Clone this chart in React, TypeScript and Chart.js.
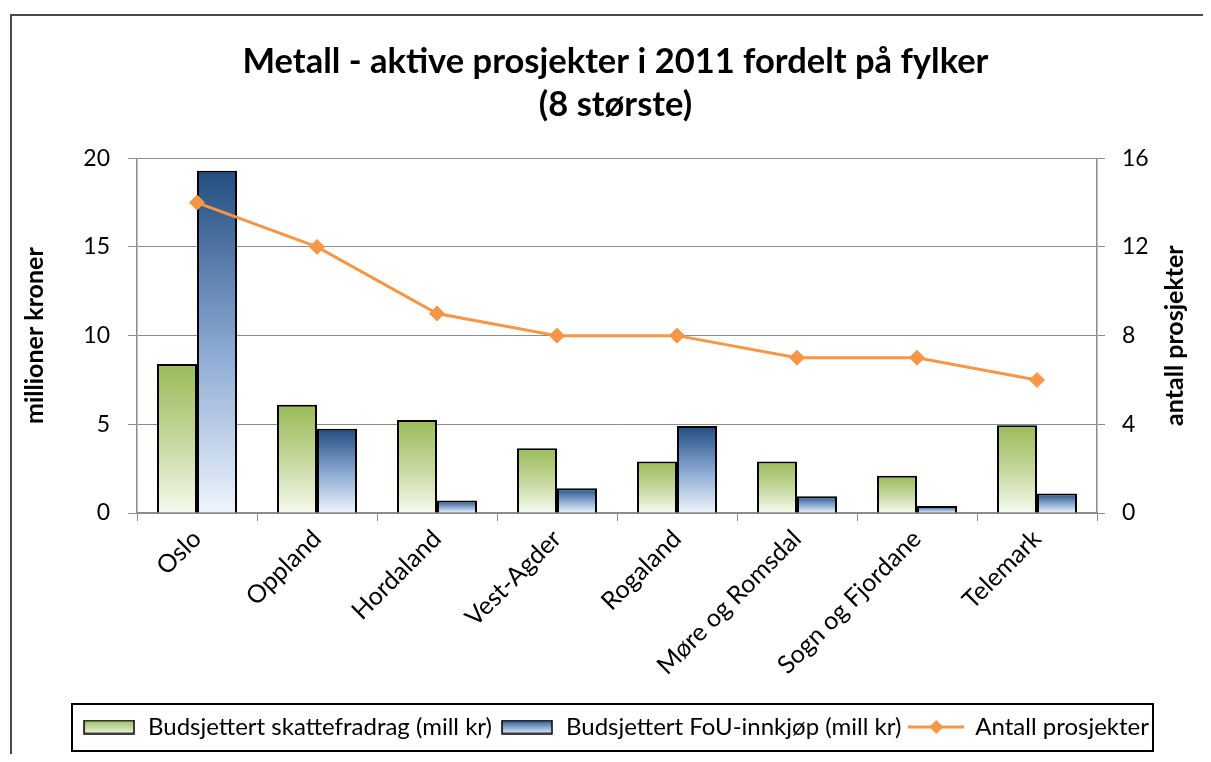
import React, { useEffect, useRef } from 'react';
import { Chart, registerables } from 'chart.js';

Chart.register(...registerables);

const categories = ['Oslo', 'Oppland', 'Hordaland', 'Vest-Agder', 'Rogaland', 'Møre og Romsdal', 'Sogn og Fjordane', 'Telemark'];
const skattefradrag = [8.4, 6.1, 5.25, 3.65, 2.9, 2.9, 2.1, 4.95];
const fouInnkjop = [19.3, 4.75, 0.7, 1.4, 4.9, 0.95, 0.4, 1.1];
const antallProsjekter = [14, 12, 9, 8, 8, 7, 7, 6];
const seriesNames = ['Budsjettert skattefradrag (mill kr)', 'Budsjettert FoU-innkjøp (mill kr)', 'Antall prosjekter'];
const titleLines = ['Metall - aktive prosjekter i 2011 fordelt på fylker', '(8 største)'];
const leftAxisTitle = 'millioner kroner';
const rightAxisTitle = 'antall prosjekter';
const leftMax = 20;
const leftStep = 5;
const rightMax = 16;
const rightStep = 4;

const FONT = "Lato, 'Open Sans', sans-serif";
const GREEN_STOPS = ['#9BBB59', '#C3D79B', '#F6FAEF'];
const BLUE_STOPS = ['#234D80', '#86A5CF', '#EEF4FD'];
const ORANGE = '#F79646';
const GRID = '#8C8C8C';

function barGradient(stops: string[]) {
  return (ctx: any) => {
    const chart = ctx.chart;
    const y = chart.scales && chart.scales.y;
    if (!y || ctx.type !== 'data' || ctx.raw == null) return stops[0];
    const top = y.getPixelForValue(ctx.raw);
    const bot = y.getPixelForValue(0);
    if (!isFinite(top) || !isFinite(bot) || Math.abs(bot - top) < 1) return stops[0];
    const g = chart.ctx.createLinearGradient(0, top, 0, bot);
    g.addColorStop(0, stops[0]);
    g.addColorStop(0.5, stops[1]);
    g.addColorStop(1, stops[2]);
    return g;
  };
}

function makeSwatch(stops: string[]) {
  const c = document.createElement('canvas');
  c.width = 52;
  c.height = 15;
  const x = c.getContext('2d')!;
  const g = x.createLinearGradient(0, 0, 0, 15);
  g.addColorStop(0, stops[0]);
  g.addColorStop(0.5, stops[1]);
  g.addColorStop(1, stops[2]);
  x.fillStyle = g;
  x.fillRect(1, 1, 50, 13);
  x.strokeStyle = '#000';
  x.lineWidth = 1.5;
  x.strokeRect(1, 1, 50, 13);
  return c;
}

function makeLineSwatch() {
  const c = document.createElement('canvas');
  c.width = 56;
  c.height = 16;
  const x = c.getContext('2d')!;
  x.strokeStyle = ORANGE;
  x.lineWidth = 3;
  x.beginPath();
  x.moveTo(0, 8);
  x.lineTo(56, 8);
  x.stroke();
  x.fillStyle = ORANGE;
  x.beginPath();
  x.moveTo(28, 1);
  x.lineTo(35, 8);
  x.lineTo(28, 15);
  x.lineTo(21, 8);
  x.closePath();
  x.fill();
  return c;
}

const legendBoxPlugin = {
  id: 'legendBox',
  afterDraw(chart: any) {
    const lg = chart.legend;
    if (!lg || !lg.legendHitBoxes || !lg.legendHitBoxes.length) return;
    const hb = lg.legendHitBoxes;
    const left = Math.min(...hb.map((h: any) => h.left)) - 10;
    const right = Math.max(...hb.map((h: any) => h.left + h.width)) + 4;
    const top = hb[0].top - 11;
    const bottom = hb[0].top + hb[0].height + 12;
    const c = chart.ctx;
    c.save();
    c.strokeStyle = '#000';
    c.lineWidth = 2;
    c.strokeRect(left, top, right - left, bottom - top);
    c.restore();
  },
};

const rightTitlePlugin = {
  id: 'rightTitle',
  afterDraw(chart: any) {
    const { ctx, chartArea, scales } = chart;
    const s = scales.y1;
    if (!s) return;
    ctx.save();
    ctx.font = `bold 25px ${FONT}`;
    ctx.fillStyle = '#000';
    ctx.translate(s.right - 36, (chartArea.top + chartArea.bottom) / 2);
    ctx.rotate(-Math.PI / 2);
    ctx.textAlign = 'center';
    ctx.textBaseline = 'middle';
    ctx.fillText(rightAxisTitle, 0, 0);
    ctx.restore();
  },
};

export default function App() {
  const ref = useRef<HTMLCanvasElement | null>(null);

  useEffect(() => {
    if (!ref.current) return;
    const swatches = [makeSwatch(GREEN_STOPS), makeSwatch(BLUE_STOPS), makeLineSwatch()];
    const chart = new Chart(ref.current, {
      type: 'bar',
      data: {
        labels: categories,
        datasets: [
          {
            label: seriesNames[0],
            data: skattefradrag,
            backgroundColor: barGradient(GREEN_STOPS),
            borderColor: '#000',
            borderWidth: 2,
            categoryPercentage: 0.667,
            barPercentage: 1,
            yAxisID: 'y',
            order: 1,
          },
          {
            label: seriesNames[1],
            data: fouInnkjop,
            backgroundColor: barGradient(BLUE_STOPS),
            borderColor: '#000',
            borderWidth: 2,
            categoryPercentage: 0.667,
            barPercentage: 1,
            yAxisID: 'y',
            order: 1,
          },
          {
            type: 'line',
            label: seriesNames[2],
            data: antallProsjekter,
            borderColor: ORANGE,
            backgroundColor: ORANGE,
            borderWidth: 3,
            pointStyle: 'rectRot',
            pointRadius: 7.5,
            pointBackgroundColor: ORANGE,
            pointBorderColor: ORANGE,
            pointBorderWidth: 1,
            tension: 0,
            yAxisID: 'y1',
            order: 0,
          } as any,
        ],
      },
      options: {
        animation: false,
        responsive: true,
        maintainAspectRatio: false,
        layout: { padding: { left: 20, right: 0, top: 0, bottom: 13 } },
        plugins: {
          title: {
            display: true,
            text: titleLines,
            color: '#000',
            font: { family: FONT, size: 34.5, weight: 'bold', lineHeight: 1.25 },
            padding: { top: 40, bottom: 32 },
          },
          legend: {
            display: true,
            position: 'bottom',
            labels: {
              usePointStyle: true,
              pointStyleWidth: 54,
              boxHeight: 15,
              padding: 8,
              color: '#000',
              font: { family: FONT, size: 24 },
              sort: (a: any, b: any) => a.datasetIndex - b.datasetIndex,
              generateLabels: (ch: any) => {
                const items = (Chart.defaults.plugins.legend.labels as any).generateLabels(ch);
                return items.map((it: any) => ({ ...it, pointStyle: swatches[it.datasetIndex], fontColor: '#000' }));
              },
            },
          },
          tooltip: { enabled: false },
        },
        scales: {
          x: {
            offset: true,
            grid: { display: true, drawOnChartArea: false, drawTicks: true, tickLength: 8, color: GRID, offset: true },
            border: { display: true, color: GRID, width: 1.5 },
            ticks: {
              color: '#000',
              font: { family: FONT, size: 25 },
              minRotation: 45,
              maxRotation: 45,
              autoSkip: false,
              padding: 3,
            },
            afterFit: (s: any) => {
              const lh = s.chart.legend ? s.chart.legend.height : 41;
              s.height = s.chart.height - 13 - lh - 513;
            },
          },
          y: {
            position: 'left',
            min: 0,
            max: leftMax,
            ticks: { stepSize: leftStep, color: '#000', font: { family: FONT, size: 23 }, padding: 18 },
            grid: { color: GRID, lineWidth: 1, tickLength: 9, drawTicks: true },
            border: { display: true, color: GRID, width: 1.5 },
            title: {
              display: true,
              text: leftAxisTitle,
              color: '#000',
              font: { family: FONT, size: 25, weight: 'bold', lineHeight: 1.2 },
              padding: { top: 0, bottom: 0 },
            },
            afterFit: (s: any) => {
              s.width = 117;
            },
          },
          y1: {
            position: 'right',
            min: 0,
            max: rightMax,
            ticks: { stepSize: rightStep, color: '#000', font: { family: FONT, size: 23 }, padding: 17 },
            grid: { drawOnChartArea: false, color: GRID, tickLength: 8, drawTicks: true },
            border: { display: true, color: GRID, width: 1.5 },
            afterFit: (s: any) => {
              s.width = 114;
            },
          },
        },
      } as any,
      plugins: [legendBoxPlugin, rightTitlePlugin],
    });
    return () => chart.destroy();
  }, []);

  return (
    <div style={{ position: 'relative', width: 1211, height: 762, margin: -8, overflow: 'hidden', background: '#fff' }}>
      <div
        style={{
          position: 'absolute',
          left: 10,
          top: 14,
          width: 1300,
          height: 900,
          border: '2px solid #4a4a4a',
          boxSizing: 'border-box',
        }}
      />
      <div style={{ position: 'absolute', left: 0, top: 0, width: 1211, height: 762 }}>
        <canvas ref={ref} />
      </div>
    </div>
  );
}
